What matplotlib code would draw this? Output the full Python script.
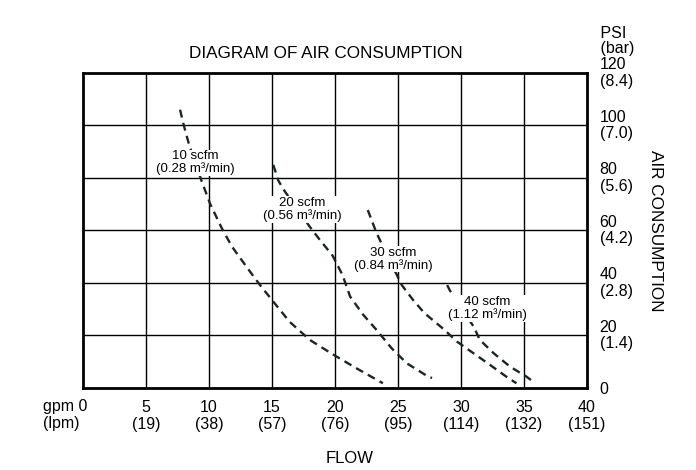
"""Air consumption diagram: flow vs air pressure for several scfm curves."""

import matplotlib
matplotlib.use("Agg")
import matplotlib.pyplot as plt
import matplotlib.transforms as mtransforms

plt.rcParams["font.family"] = ["Liberation Sans", "DejaVu Sans"]

# flow ticks (gpm) and litres per minute equivalents
gpm_ticks = [5, 10, 15, 20, 25, 30, 35, 40]
lpm_labels = ["19", "38", "57", "76", "95", "114", "132", "151"]

# pressure ticks (psi) and bar equivalents
psi_ticks = [20, 40, 60, 80, 100, 120]
bar_labels = ["1.4", "2.8", "4.2", "5.6", "7.0", "8.4"]

# curves (gpm, psi)
scfm10_x = [7.7, 8.0, 8.4, 9.4, 10.1, 11.0, 11.8, 13.0, 14.0, 15.0, 16.4, 18.0, 19.9, 21.7, 23.8]
scfm10_y = [106, 100, 93, 79, 70, 61, 54, 46, 39.5, 33.5, 25.2, 18.3, 12.6, 7.5, 1.8]
scfm20_x = [15.1, 15.5, 16.0, 18.0, 18.8, 19.8, 20.6, 21.2, 22.25, 23.3, 24.5, 25.7, 27.4, 27.7]
scfm20_y = [85, 79, 75, 61.4, 56.4, 50.5, 43, 34.8, 27.8, 22.1, 15.1, 9.4, 4.3, 3.8]
scfm30_x = [22.6, 22.9, 23.3, 24.3, 25.3, 26.2, 27.1, 28.6, 29.7, 31.0, 32.3, 33.6, 34.4]
scfm30_y = [67.8, 64, 59, 49, 39.2, 33.5, 28.5, 22.5, 17.6, 13.2, 8.8, 4.3, 1.8]
scfm40_x = [28.9, 29.1, 30.0, 31.0, 31.5, 32.6, 33.9, 35.2, 35.9]
scfm40_y = [39.2, 37.3, 30.5, 23.4, 18.3, 13.2, 8.1, 4.3, 1.8]

curve_labels = ["10 scfm\n(0.28 m³/min)", "20 scfm\n(0.56 m³/min)",
                "30 scfm\n(0.84 m³/min)", "40 scfm\n(1.12 m³/min)"]
label_pos = [(8.9, 85.8), (17.4, 68.0), (24.6, 49.0), (32.1, 30.3)]

fig = plt.figure(figsize=(6.96, 4.70), dpi=100)
ax = fig.add_axes([0.1193, 0.1745, 0.7241, 0.6702])

ax.set_xlim(0, 40)
ax.set_ylim(0, 120)

# grid
for g in gpm_ticks[:-1]:
    ax.axvline(g, color="black", lw=1.0, zorder=1)
for p in psi_ticks[:-1]:
    ax.axhline(p, color="black", lw=1.0, zorder=1)

for xs, ys in [(scfm10_x, scfm10_y), (scfm20_x, scfm20_y),
               (scfm30_x, scfm30_y), (scfm40_x, scfm40_y)]:
    ax.plot(xs, ys, color="#1a2626", lw=1.7, ls=(0, (3.4, 2.3)), zorder=2)

for txt, (lx, ly) in zip(curve_labels, label_pos):
    ax.text(lx, ly, txt, ha="center", va="center", fontsize=9.5,
            linespacing=1.0, zorder=3,
            bbox=dict(facecolor="white", edgecolor="none", pad=0.5))

for s in ax.spines.values():
    s.set_linewidth(2.0)

# x ticks
ax.set_xticks(gpm_ticks)
ax.set_xticklabels([f"{g}\n({l})" for g, l in zip(gpm_ticks, lpm_labels)],
                   fontsize=11.5, linespacing=1.12)
ax.tick_params(axis="x", length=0, pad=9)

trans_x = mtransforms.blended_transform_factory(ax.transData, ax.transAxes)
ax.text(-3.2, -0.036, "gpm 0\n(lpm)", transform=trans_x, ha="left", va="top",
        fontsize=11.5, linespacing=1.12, clip_on=False)

# y ticks on right
ax.yaxis.tick_right()
ax.set_yticks([0] + psi_ticks)
ax.set_yticklabels(["0"] + [f"{p}\n({b})" for p, b in zip(psi_ticks, bar_labels)],
                   fontsize=11.5, linespacing=1.12)
ax.tick_params(axis="y", length=0, pad=9)
for lbl in ax.get_yticklabels()[1:]:
    lbl.set_verticalalignment("center")

ax.text(1.0, 1.055, "   PSI\n   (bar)", transform=ax.transAxes, ha="left",
        va="bottom", fontsize=11.5, linespacing=0.95)

fig.text(0.468, 0.887, "DIAGRAM OF AIR CONSUMPTION", ha="center", va="center",
         fontsize=12.3)
ax.text(1.135, 0.5, "AIR CONSUMPTION", transform=ax.transAxes, rotation=270,
        ha="center", va="center", fontsize=12.3)
fig.text(0.503, 0.025, "FLOW", ha="center", va="center", fontsize=12)

fig.savefig("out.png", dpi=100)
